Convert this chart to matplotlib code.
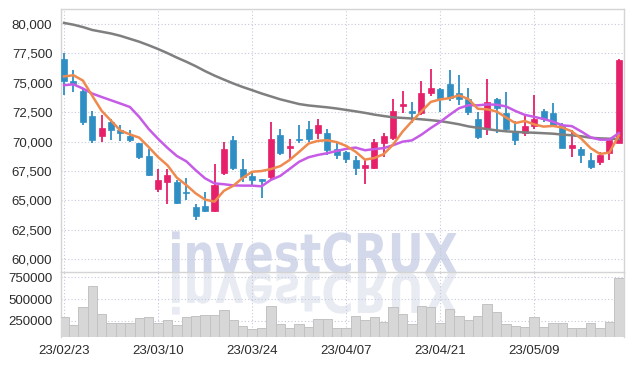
import numpy as np
import matplotlib

matplotlib.use("Agg")
import matplotlib.pyplot as plt
from matplotlib.textpath import TextPath
from matplotlib.patches import PathPatch
from matplotlib.font_manager import FontProperties
from matplotlib.transforms import Affine2D, IdentityTransform
from matplotlib.ticker import FuncFormatter


# ----------------------------------------------------------------------
# Daten
# ----------------------------------------------------------------------

tick_pos = [0, 10, 20, 30, 40, 50]
tick_labels = ["23/02/23", "23/03/10", "23/03/24", "23/04/07", "23/04/21", "23/05/09"]

opens = [77000, 75200, 74300, 72200, 70500, 71700, 71000, 70500, 69900, 68750,
         66000, 66550, 66600, 65650, 64400, 64500, 64100, 67300, 70100, 67650,
         67050, 66800, 67000, 70600, 69450, 70150, 71050, 70700, 70750, 69350,
         69100, 68400, 67750, 67750, 69900, 70350, 73000, 72650, 72450, 74150,
         74500, 74900, 74100, 73650, 71950, 71100, 73650, 72400, 70900, 70700,
         71300, 72600, 72400, 71400, 69450, 69400, 68400, 68250, 69050, 69900]
highs = [77500, 76100, 74500, 72600, 72300, 71900, 71400, 71000, 69900, 69350,
         67700, 67700, 66700, 66900, 64700, 65700, 68100, 70000, 70500, 68550,
         67400, 66850, 71650, 71100, 70200, 71400, 71800, 71900, 71050, 69850,
         69200, 68800, 68400, 70250, 70700, 73600, 74350, 73400, 75200, 76150,
         74600, 76100, 75700, 74550, 72550, 75300, 73750, 74250, 71800, 72250,
         73950, 72800, 73300, 71550, 70950, 69550, 69050, 69100, 70100, 77000]
lows = [74000, 74200, 71400, 69900, 70000, 70100, 70050, 70000, 68550, 67100,
        65700, 64700, 64700, 65000, 63300, 64000, 64050, 67200, 67550, 66550,
        66300, 65250, 66850, 68850, 68550, 69850, 69950, 70200, 68850, 68550,
        68200, 67200, 66400, 67700, 68700, 70150, 72400, 71550, 72300, 73900,
        72550, 73500, 73100, 72250, 70250, 70600, 70700, 70900, 69700, 70500,
        71100, 71700, 71250, 69450, 68700, 68200, 67650, 68000, 68400, 69850]
closes = [75200, 74900, 71700, 70100, 71200, 71000, 70700, 70100, 68700, 67200,
          66750, 67200, 64800, 65600, 63650, 64100, 66350, 69400, 67750, 67000,
          66700, 66650, 70250, 69000, 69650, 70100, 70200, 71400, 69250, 68850,
          68500, 67750, 68000, 69950, 70500, 72600, 73200, 72450, 74100, 74550,
          73650, 73750, 73650, 72550, 70400, 73400, 72850, 71100, 70150, 71300,
          71950, 71900, 71400, 69450, 69700, 68850, 67850, 68900, 70100, 76950]

ma5 = [75550, 75650, 75200, 73900, 72620, 71780, 70940, 70620, 70340, 69540,
       68690, 67990, 66930, 66310, 65600, 65070, 64900, 65820, 66250, 66920,
       67440, 67500, 67670, 67920, 68450, 69130, 69840, 70070, 70120, 69960,
       69640, 69150, 68470, 68610, 68940, 69760, 70850, 71740, 72570, 73380,
       73590, 73700, 73940, 73630, 72800, 72750, 72570, 72060, 71580, 71760,
       71470, 71280, 71340, 71200, 70880, 70260, 69450, 68950, 69080, 70530]
ma10 = [74800, 74880, 74520, 74090, 73800, 73520, 73240, 72950, 72100, 71080,
        70240, 69470, 68780, 68330, 67570, 66880, 66450, 66380, 66280, 66260,
        66260, 66200, 66750, 67090, 67690, 68290, 68670, 68870, 69020, 69210,
        69390, 69500, 69270, 69370, 69450, 69700, 70000, 70110, 70590, 71160,
        71680, 72280, 72840, 73100, 73090, 73170, 73140, 73000, 72610, 72280,
        72110, 71930, 71700, 71390, 71320, 70870, 70370, 70170, 70170, 70730]
ma60 = [80100, 79950, 79750, 79500, 79350, 79200, 79000, 78750, 78500, 78200,
        77880, 77530, 77150, 76800, 76420, 76000, 75620, 75280, 74950, 74650,
        74380, 74100, 73850, 73600, 73400, 73200, 73080, 73000, 72920, 72820,
        72700, 72580, 72450, 72300, 72180, 72070, 72020, 71970, 71900, 71830,
        71750, 71620, 71480, 71300, 71180, 71070, 70960, 70880, 70830, 70790,
        70760, 70720, 70680, 70600, 70540, 70460, 70330, 70280, 70250, 70230]

volumes = [288, 200, 404, 650, 327, 219, 219, 219, 277, 288,
           227, 258, 200, 288, 304, 315, 315, 373, 258, 188,
           150, 162, 419, 212, 162, 212, 173, 265, 265, 162,
           162, 304, 258, 288, 238, 404, 327, 212, 419, 404,
           227, 381, 304, 258, 304, 442, 346, 212, 188, 173,
           288, 173, 219, 219, 162, 162, 219, 162, 231, 738]

RED = "#e6206a"
BLUE = "#2f8fc4"
GRID = "#c5c9dc"
TXT = "#2b2b2b"

plt.rcParams["font.family"] = ["Liberation Sans", "DejaVu Sans"]

fig = plt.figure(figsize=(6.34, 3.66), dpi=100)

# Wasserzeichen (hinter den Achsen), kraeftige Schrift horizontal gestaucht
fp = FontProperties(family="DejaVu Sans", weight="bold")
tp = TextPath((0, 0), "investCRUX", size=50, prop=fp)
ext = tp.get_extents()
sx = 285.0 / ext.width
sy = 40.0 / (0.73 * 50)
base_x, base_y = 172 - ext.x0 * sx, 366 - 273
wm = PathPatch(tp, transform=Affine2D().scale(sx, sy).translate(base_x, base_y) + IdentityTransform(),
               facecolor="#d3d9ea", edgecolor="none", zorder=-2)
fig.add_artist(wm)
wm_ref = PathPatch(tp, transform=Affine2D().scale(sx, -sy).translate(base_x, base_y) + IdentityTransform(),
                   facecolor="#e9ebf3", edgecolor="none", zorder=-2)
fig.add_artist(wm_ref)

ax = fig.add_axes([0.0957, 0.2577, 0.8885, 0.7169])
axv = fig.add_axes([0.0957, 0.0801, 0.8885, 0.1776], sharex=ax)
for a in (ax, axv):
    a.set_facecolor("none")

x = np.arange(len(closes))
o = np.array(opens, dtype=float)
c = np.array(closes, dtype=float)
up = c >= o
cols = np.where(up, RED, BLUE)
body_low = np.minimum(o, c)
body_h = np.maximum(np.abs(c - o), 100)

ax.vlines(x, lows, highs, colors=cols, linewidth=1.3, zorder=3)
ax.bar(x, body_h, bottom=body_low, width=0.64, color=cols, edgecolor=cols,
       linewidth=0.5, zorder=4)

ax.plot(x, ma60, color="#7f7f7f", linewidth=1.8, zorder=5)
ax.plot(x, ma10, color="#c65ce6", linewidth=1.8, zorder=5)
ax.plot(x, ma5, color="#ef8a4e", linewidth=1.8, zorder=5)

ax.set_xlim(-0.36, 59.55)
ax.set_ylim(58940, 81260)
ax.set_yticks(np.arange(60000, 80001, 2500))
ax.yaxis.set_major_formatter(FuncFormatter(lambda v, p: f"{int(v):,}"))
ax.set_xticks(tick_pos)
ax.tick_params(axis="both", length=0, labelsize=9.5, colors=TXT, pad=6)
ax.tick_params(axis="x", labelbottom=False)
ax.grid(True, linestyle=(0, (1, 2)), color=GRID, linewidth=0.8)
ax.set_axisbelow(True)

axv.bar(x, np.array(volumes) * 1000, width=1.0, color="#d7d7d7",
        edgecolor="#c2c2c2", linewidth=0.7, zorder=3)
axv.set_ylim(66000, 815000)
axv.set_yticks([250000, 500000, 750000])
axv.set_yticklabels(["250000", "500000", "750000"])
axv.set_xticks(tick_pos)
axv.set_xticklabels(tick_labels)
axv.tick_params(axis="both", length=0, labelsize=9.5, colors=TXT, pad=6)
axv.grid(True, linestyle=(0, (1, 2)), color=GRID, linewidth=0.8)
axv.set_axisbelow(True)

for a in (ax, axv):
    for s in a.spines.values():
        s.set_color("#d4d4d4")
        s.set_linewidth(1.0)
axv.spines["bottom"].set_visible(False)
axv.spines["top"].set_visible(False)

fig.savefig("out.png", dpi=100)
plt.close(fig)
